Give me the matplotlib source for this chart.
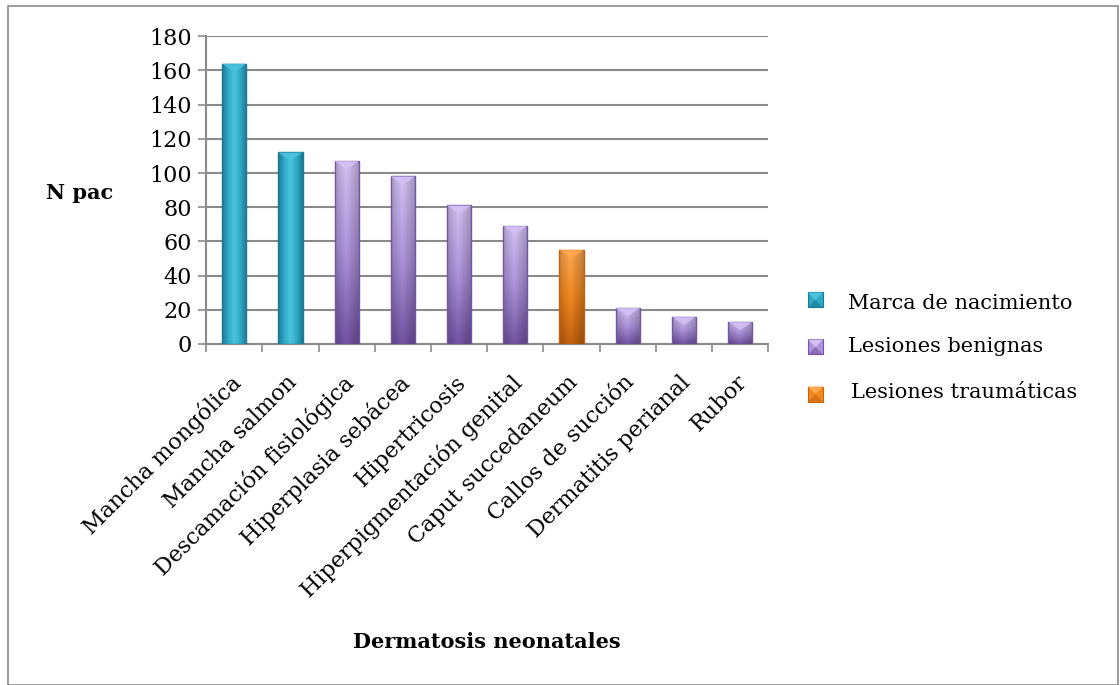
import matplotlib
matplotlib.use("Agg")
import matplotlib.pyplot as plt
import numpy as np
from matplotlib.colors import LinearSegmentedColormap
from matplotlib.patches import Polygon, Rectangle

categories = [
    "Mancha mongólica", "Mancha salmon", "Descamación fisiológica",
    "Hiperplasia sebácea", "Hipertricosis", "Hiperpigmentación genital",
    "Caput succedaneum", "Callos de succión", "Dermatitis perianal", "Rubor",
]
values = [164, 112, 107, 98, 81, 69, 55, 21, 16, 13]
groups = [0, 0, 1, 1, 1, 1, 2, 1, 1, 1]
group_names = ["Marca de nacimiento", "Lesiones benignas", "Lesiones traumáticas"]
y_ticks = [0, 20, 40, 60, 80, 100, 120, 140, 160, 180]

# light, mid, dark per group
palette = [
    ("#4cc3df", "#2ea9c7", "#1d7890"),
    ("#d4c2f4", "#ae94dc", "#7454a4"),
    ("#ffa94f", "#f3891e", "#c4620f"),
]

plt.rcParams["font.family"] = ["DejaVu Serif"]

W, H = 1120, 685
fig = plt.figure(figsize=(11.2, 6.85), dpi=100)
fig.patches.append(Rectangle((8 / W, 0), 1 - 10 / W, 1 - 6 / H, transform=fig.transFigure,
                             fill=False, edgecolor="#8c8c8c", linewidth=1.2))
ax = fig.add_axes([0.184, 0.498, 0.502, 0.449])

x = np.arange(len(categories))
width = 0.43
bars = ax.bar(x, values, width=width, color="none", edgecolor="none", zorder=3)
grad = np.linspace(0, 1, 64)[None, :]
for bar, g in zip(bars, groups):
    light, mid, dark = palette[g]
    if g == 0:
        cmap = LinearSegmentedColormap.from_list("c", [dark, mid, light, mid, dark])
        img = cmap(np.tile(grad, (32, 1)))
    else:
        vert = LinearSegmentedColormap.from_list("v", [dark, mid, light])
        v = np.linspace(0, 1, 64)[:, None]
        img = vert(np.tile(v, (1, 64)))
        shade = 1 - 0.22 * np.abs(np.tile(grad, (64, 1)) - 0.45) * 2
        img[..., :3] = img[..., :3] * shade[..., None]
    bx, bw, bh = bar.get_x(), bar.get_width(), bar.get_height()
    im = ax.imshow(img, extent=[bx, bx + bw, 0, bh], origin="lower", aspect="auto", zorder=3)
    im.set_clip_path(Rectangle((bx, 0), bw, bh, transform=ax.transData))
    ax.add_patch(Rectangle((bx, 0), bw, bh, fill=False, edgecolor=dark, linewidth=1.0, zorder=4))
    ax.fill([bx, bx + bw, bx + bw / 2], [bh, bh, bh - 5], color=light, alpha=0.85,
            edgecolor="none", zorder=5)

ax.set_xlim(-0.5, len(categories) - 0.5)
ax.set_ylim(0, 180)
ax.set_yticks(y_ticks)
ax.set_yticklabels([str(t) for t in y_ticks], fontsize=16)
ax.yaxis.grid(True, color="#8a8a8a", linewidth=1.5, zorder=0)
ax.set_axisbelow(True)
for side in ["top", "right"]:
    ax.spines[side].set_visible(False)
for side in ["left", "bottom"]:
    ax.spines[side].set_color("#8a8a8a")
    ax.spines[side].set_linewidth(1.5)
ax.tick_params(axis="y", length=6, width=1.2, color="#8a8a8a", pad=4)
ax.set_xticks(np.arange(len(categories) + 1) - 0.5)
ax.set_xticklabels([])
ax.tick_params(axis="x", length=6, width=1.2, color="#8a8a8a")
for xi, name in zip(x, categories):
    ax.text(xi - 0.08, -16, name, rotation=45, ha="right", va="top", rotation_mode="anchor",
            fontsize=16)

fig.text(80 / W, 1 - 193 / H, "N pac", fontsize=15, fontweight="bold", ha="center", va="center")
fig.text(487 / W, 1 - 642 / H, "Dermatosis neonatales", fontsize=15, fontweight="bold",
         ha="center", va="center")

# legend: small bevelled squares, text on baselines
legend_marker_y = [300, 347, 394]
legend_text_x = [848, 848, 851]
legend_baseline = [309, 352, 398]
for i, name in enumerate(group_names):
    light, mid, dark = palette[i]
    cx, cy, s = 815.5, legend_marker_y[i], 7.5
    x0, x1 = (cx - s) / W, (cx + s) / W
    y0, y1 = 1 - (cy + s) / H, 1 - (cy - s) / H
    xm, ym = cx / W, 1 - cy / H
    fig.patches.append(Rectangle((x0, y0), x1 - x0, y1 - y0, transform=fig.transFigure,
                                 facecolor=mid, edgecolor=dark, linewidth=0.8))
    fig.patches.append(Polygon([(x0, y1), (x1, y1), (xm, ym)], closed=True, transform=fig.transFigure,
                               facecolor=light, edgecolor="none"))
    fig.patches.append(Polygon([(x0, y0), (x1, y0), (xm, ym)], closed=True, transform=fig.transFigure,
                               facecolor=dark, edgecolor="none", alpha=0.6))
    fig.text(legend_text_x[i] / W, 1 - legend_baseline[i] / H, name, fontsize=15, ha="left",
             va="baseline")

fig.savefig("out.png", dpi=100)
